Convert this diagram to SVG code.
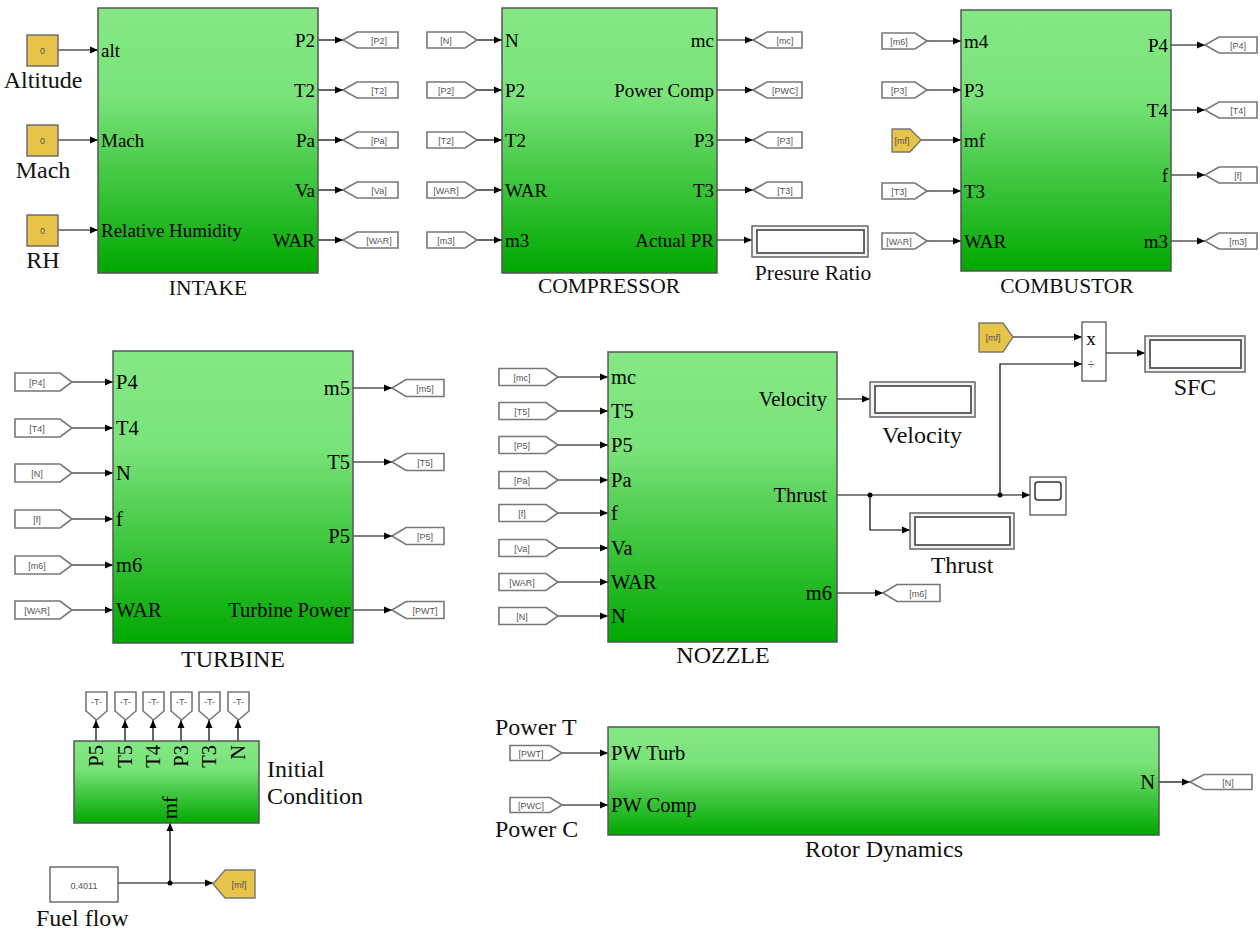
<svg xmlns="http://www.w3.org/2000/svg" width="1260" height="929" viewBox="0 0 1260 929">
<defs>
<linearGradient id="g" x1="0" y1="0" x2="0" y2="1">
<stop offset="0" stop-color="#84e884"/>
<stop offset="0.33" stop-color="#7ae37a"/>
<stop offset="1" stop-color="#00a800"/>
</linearGradient>
<marker id="ar" markerUnits="userSpaceOnUse" markerWidth="9" markerHeight="8" refX="8" refY="4" orient="auto">
<path d="M0,0.5 L8,4 L0,7.5 z" fill="#000"/>
</marker>
<style>
.blk{fill:url(#g);stroke:#555;stroke-width:1.5}
.p{font-family:"Liberation Serif",serif;font-size:19px;fill:#000}
.p2{font-family:"Liberation Serif",serif;font-size:20.5px;fill:#000}
.r{text-anchor:end}
.t{font-family:"Liberation Serif",serif;font-size:21.5px;fill:#111;text-anchor:middle}
.t2{font-family:"Liberation Serif",serif;font-size:24px;fill:#111}
.m{text-anchor:middle}
.tag{fill:#fff;stroke:#777;stroke-width:1.6}
.gold{fill:#e8c34a;stroke:#777;stroke-width:1.4}
.tt{font-family:"Liberation Sans",sans-serif;font-size:9px;fill:#555;text-anchor:middle}
.w{stroke:#000;stroke-width:1.2;fill:none}
.wa{stroke:#000;stroke-width:1.2;fill:none;marker-end:url(#ar)}
.disp{fill:#f4f4f4;stroke:#666;stroke-width:1.5}
.dispi{fill:#fff;stroke:#555;stroke-width:1.8}
.c{fill:#e8c34a;stroke:#666;stroke-width:1.4}
</style>
</defs>
<rect width="1260" height="929" fill="#fff"/>

<g id="connectors">
<!-- intake -->
<path class="wa" d="M58,50 H98"/>
<path class="wa" d="M58,140 H98"/>
<path class="wa" d="M58,230 H98"/>
<path class="wa" d="M318,40 H343"/>
<path class="wa" d="M318,90 H343"/>
<path class="wa" d="M318,140 H343"/>
<path class="wa" d="M318,190 H343"/>
<path class="wa" d="M318,240 H343"/>
<!-- compressor -->
<path class="wa" d="M477,40 H502"/>
<path class="wa" d="M477,90 H502"/>
<path class="wa" d="M477,140 H502"/>
<path class="wa" d="M477,190 H502"/>
<path class="wa" d="M477,240 H502"/>
<path class="wa" d="M717,40 H753"/>
<path class="wa" d="M717,90 H753"/>
<path class="wa" d="M717,140 H753"/>
<path class="wa" d="M717,190 H753"/>
<path class="wa" d="M717,240 H752"/>
<!-- combustor -->
<path class="wa" d="M927,41 H961"/>
<path class="wa" d="M927,90 H961"/>
<path class="wa" d="M921,140 H961"/>
<path class="wa" d="M927,191 H961"/>
<path class="wa" d="M927,241 H961"/>
<path class="wa" d="M1171,45 H1205"/>
<path class="wa" d="M1171,110 H1205"/>
<path class="wa" d="M1171,175 H1205"/>
<path class="wa" d="M1171,241 H1205"/>
<!-- turbine -->
<path class="wa" d="M72,382 H113"/>
<path class="wa" d="M72,428 H113"/>
<path class="wa" d="M72,473 H113"/>
<path class="wa" d="M72,519 H113"/>
<path class="wa" d="M72,565 H113"/>
<path class="wa" d="M72,610 H113"/>
<path class="wa" d="M353,388 H392"/>
<path class="wa" d="M353,462 H392"/>
<path class="wa" d="M353,536 H392"/>
<path class="wa" d="M353,610 H392"/>
<!-- nozzle -->
<path class="wa" d="M558,377 H608"/>
<path class="wa" d="M558,411 H608"/>
<path class="wa" d="M558,445 H608"/>
<path class="wa" d="M558,480 H608"/>
<path class="wa" d="M558,513 H608"/>
<path class="wa" d="M558,548 H608"/>
<path class="wa" d="M558,582 H608"/>
<path class="wa" d="M558,616 H608"/>
<path class="wa" d="M837,399 H870"/>
<path class="wa" d="M837,495 H1030"/>
<path class="wa" d="M870,495 V530 H910"/>
<path class="wa" d="M1000,495 V364 H1082"/>
<path class="wa" d="M1013,337 H1082"/>
<path class="wa" d="M1106,353 H1145"/>
<path class="wa" d="M837,593 H883"/>
<circle cx="870" cy="495" r="2.5" fill="#000"/>
<circle cx="1000" cy="495" r="2.5" fill="#000"/>
<!-- initial condition -->
<path class="wa" d="M96,741 V720"/>
<path class="wa" d="M125,741 V720"/>
<path class="wa" d="M153,741 V720"/>
<path class="wa" d="M181,741 V720"/>
<path class="wa" d="M209,741 V720"/>
<path class="wa" d="M238,741 V720"/>
<path class="wa" d="M118,883 H213"/>
<path class="wa" d="M170,883 V823"/>
<circle cx="170" cy="883" r="2.5" fill="#000"/>
<!-- rotor -->
<path class="wa" d="M562,753 H608"/>
<path class="wa" d="M562,805 H608"/>
<path class="wa" d="M1159,782 H1190"/>
</g>

<g id="const-altitude">
<rect class="c" x="27" y="35" width="31" height="31"/>
<text class="tt" x="42.5" y="53.5" fill="#333">0</text>
<text class="t2 m" x="43" y="88">Altitude</text>
</g>
<g id="const-mach">
<rect class="c" x="27" y="125" width="31" height="31"/>
<text class="tt" x="42.5" y="143.5">0</text>
<text class="t2 m" x="43" y="178">Mach</text>
</g>
<g id="const-rh">
<rect class="c" x="27" y="215" width="31" height="31"/>
<text class="tt" x="42.5" y="233.5">0</text>
<text class="t2 m" x="43" y="268">RH</text>
</g>

<g id="intake">
<rect class="blk" x="98" y="8" width="220" height="265"/>
<text class="p" x="101" y="56.5">alt</text>
<text class="p" x="101" y="146.5">Mach</text>
<text class="p" x="101" y="236.5">Relative Humidity</text>
<text class="p r" x="315" y="46.5">P2</text>
<text class="p r" x="315" y="96.5">T2</text>
<text class="p r" x="315" y="146.5">Pa</text>
<text class="p r" x="315" y="196.5">Va</text>
<text class="p r" x="315" y="246.5">WAR</text>
<text class="t" x="208" y="295">INTAKE</text>
</g>
<g id="intake-tags">
<polygon class="tag" points="343,40 357,32 398,32 398,48 357,48"/><text class="tt" x="379" y="43.5">[P2]</text>
<polygon class="tag" points="343,90 357,82 398,82 398,98 357,98"/><text class="tt" x="379" y="93.5">[T2]</text>
<polygon class="tag" points="343,140 357,132 398,132 398,148 357,148"/><text class="tt" x="379" y="143.5">[Pa]</text>
<polygon class="tag" points="343,190 357,182 398,182 398,198 357,198"/><text class="tt" x="379" y="193.5">[Va]</text>
<polygon class="tag" points="343,240 357,232 398,232 398,248 357,248"/><text class="tt" x="379" y="243.5">[WAR]</text>
</g>

<g id="compressor-in-tags">
<polygon class="tag" points="427,32 465,32 477,40 465,48 427,48"/><text class="tt" x="446" y="43.5">[N]</text>
<polygon class="tag" points="427,82 465,82 477,90 465,98 427,98"/><text class="tt" x="446" y="93.5">[P2]</text>
<polygon class="tag" points="427,132 465,132 477,140 465,148 427,148"/><text class="tt" x="446" y="143.5">[T2]</text>
<polygon class="tag" points="427,182 465,182 477,190 465,198 427,198"/><text class="tt" x="446" y="193.5">[WAR]</text>
<polygon class="tag" points="427,232 465,232 477,240 465,248 427,248"/><text class="tt" x="446" y="243.5">[m3]</text>
</g>
<g id="compressor">
<rect class="blk" x="502" y="8" width="215" height="265"/>
<text class="p" x="505" y="46.5">N</text>
<text class="p" x="505" y="96.5">P2</text>
<text class="p" x="505" y="146.5">T2</text>
<text class="p" x="505" y="196.5">WAR</text>
<text class="p" x="505" y="246.5">m3</text>
<text class="p r" x="714" y="46.5">mc</text>
<text class="p r" x="714" y="96.5">Power Comp</text>
<text class="p r" x="714" y="146.5">P3</text>
<text class="p r" x="714" y="196.5">T3</text>
<text class="p r" x="714" y="246.5">Actual PR</text>
<text class="t" x="609" y="293">COMPRESSOR</text>
</g>
<g id="compressor-out-tags">
<polygon class="tag" points="753,40 767,32 802,32 802,48 767,48"/><text class="tt" x="785" y="43.5">[mc]</text>
<polygon class="tag" points="753,90 767,82 802,82 802,98 767,98"/><text class="tt" x="785" y="93.5">[PWC]</text>
<polygon class="tag" points="753,140 767,132 802,132 802,148 767,148"/><text class="tt" x="785" y="143.5">[P3]</text>
<polygon class="tag" points="753,190 767,182 802,182 802,198 767,198"/><text class="tt" x="785" y="193.5">[T3]</text>
</g>
<g id="pressure-ratio">
<rect class="disp" x="752" y="226" width="116" height="31"/>
<rect class="dispi" x="757" y="230" width="107" height="23"/>
<text class="t" x="813" y="280">Presure Ratio</text>
</g>

<g id="combustor-in-tags">
<polygon class="tag" points="882,33 915,33 927,41 915,49 882,49"/><text class="tt" x="899" y="44.5">[m6]</text>
<polygon class="tag" points="882,82 915,82 927,90 915,98 882,98"/><text class="tt" x="899" y="93.5">[P3]</text>
<polygon class="gold" points="892,129 910,129 921,140 910,152 892,152"/><text class="tt" x="902" y="143.5">[mf]</text>
<polygon class="tag" points="882,183 915,183 927,191 915,199 882,199"/><text class="tt" x="899" y="194.5">[T3]</text>
<polygon class="tag" points="882,233 915,233 927,241 915,249 882,249"/><text class="tt" x="899" y="244.5">[WAR]</text>
</g>
<g id="combustor">
<rect class="blk" x="961" y="10" width="210" height="261"/>
<text class="p" x="964" y="47.5">m4</text>
<text class="p" x="964" y="96.5">P3</text>
<text class="p" x="964" y="146.5">mf</text>
<text class="p" x="964" y="197.5">T3</text>
<text class="p" x="964" y="247.5">WAR</text>
<text class="p r" x="1168" y="51.5">P4</text>
<text class="p r" x="1168" y="116.5">T4</text>
<text class="p r" x="1168" y="181.5">f</text>
<text class="p r" x="1168" y="247.5">m3</text>
<text class="t" x="1067" y="293">COMBUSTOR</text>
</g>
<g id="combustor-out-tags">
<polygon class="tag" points="1205,45 1219,37 1257,37 1257,53 1219,53"/><text class="tt" x="1238" y="48.5">[P4]</text>
<polygon class="tag" points="1205,110 1219,102 1257,102 1257,118 1219,118"/><text class="tt" x="1238" y="113.5">[T4]</text>
<polygon class="tag" points="1205,175 1219,167 1257,167 1257,183 1219,183"/><text class="tt" x="1238" y="178.5">[f]</text>
<polygon class="tag" points="1205,241 1219,233 1257,233 1257,249 1219,249"/><text class="tt" x="1238" y="244.5">[m3]</text>
</g>

<g id="turbine-in-tags">
<polygon class="tag" points="15,373 60,373 72,382 60,391 15,391"/><text class="tt" x="37" y="385.5">[P4]</text>
<polygon class="tag" points="15,419 60,419 72,428 60,437 15,437"/><text class="tt" x="37" y="431.5">[T4]</text>
<polygon class="tag" points="15,464 60,464 72,473 60,482 15,482"/><text class="tt" x="37" y="476.5">[N]</text>
<polygon class="tag" points="15,510 60,510 72,519 60,528 15,528"/><text class="tt" x="37" y="522.5">[f]</text>
<polygon class="tag" points="15,556 60,556 72,565 60,574 15,574"/><text class="tt" x="37" y="568.5">[m6]</text>
<polygon class="tag" points="15,601 60,601 72,610 60,619 15,619"/><text class="tt" x="37" y="613.5">[WAR]</text>
</g>
<g id="turbine">
<rect class="blk" x="113" y="351" width="240" height="292"/>
<text class="p2" x="116" y="389">P4</text>
<text class="p2" x="116" y="435">T4</text>
<text class="p2" x="116" y="480">N</text>
<text class="p2" x="116" y="526">f</text>
<text class="p2" x="116" y="572">m6</text>
<text class="p2" x="116" y="617">WAR</text>
<text class="p2 r" x="350" y="395">m5</text>
<text class="p2 r" x="350" y="469">T5</text>
<text class="p2 r" x="350" y="543">P5</text>
<text class="p2 r" x="350" y="617">Turbine Power</text>
<text class="t2 m" x="233" y="667">TURBINE</text>
</g>
<g id="turbine-out-tags">
<polygon class="tag" points="392,388 406,379.5 444,379.5 444,396.5 406,396.5"/><text class="tt" x="425" y="391.5">[m5]</text>
<polygon class="tag" points="392,462 406,453.5 444,453.5 444,470.5 406,470.5"/><text class="tt" x="425" y="465.5">[T5]</text>
<polygon class="tag" points="392,536 406,527.5 444,527.5 444,544.5 406,544.5"/><text class="tt" x="425" y="539.5">[P5]</text>
<polygon class="tag" points="392,610 406,601.5 444,601.5 444,618.5 406,618.5"/><text class="tt" x="425" y="613.5">[PWT]</text>
</g>

<g id="nozzle-in-tags">
<polygon class="tag" points="499,368.5 546,368.5 558,377 546,385.5 499,385.5"/><text class="tt" x="522" y="380.5">[mc]</text>
<polygon class="tag" points="499,402.5 546,402.5 558,411 546,419.5 499,419.5"/><text class="tt" x="522" y="414.5">[T5]</text>
<polygon class="tag" points="499,436.5 546,436.5 558,445 546,453.5 499,453.5"/><text class="tt" x="522" y="448.5">[P5]</text>
<polygon class="tag" points="499,471.5 546,471.5 558,480 546,488.5 499,488.5"/><text class="tt" x="522" y="483.5">[Pa]</text>
<polygon class="tag" points="499,504.5 546,504.5 558,513 546,521.5 499,521.5"/><text class="tt" x="522" y="516.5">[f]</text>
<polygon class="tag" points="499,539.5 546,539.5 558,548 546,556.5 499,556.5"/><text class="tt" x="522" y="551.5">[Va]</text>
<polygon class="tag" points="499,573.5 546,573.5 558,582 546,590.5 499,590.5"/><text class="tt" x="522" y="585.5">[WAR]</text>
<polygon class="tag" points="499,607.5 546,607.5 558,616 546,624.5 499,624.5"/><text class="tt" x="522" y="619.5">[N]</text>
</g>
<g id="nozzle">
<rect class="blk" x="608" y="352" width="229" height="290"/>
<text class="p2" x="611" y="384">mc</text>
<text class="p2" x="611" y="418">T5</text>
<text class="p2" x="611" y="452">P5</text>
<text class="p2" x="611" y="487">Pa</text>
<text class="p2" x="611" y="520">f</text>
<text class="p2" x="611" y="555">Va</text>
<text class="p2" x="611" y="589">WAR</text>
<text class="p2" x="611" y="623">N</text>
<text class="p2 r" x="827" y="406">Velocity</text>
<text class="p2 r" x="827" y="502">Thrust</text>
<text class="p2 r" x="832" y="600">m6</text>
<text class="t2 m" x="723" y="663">NOZZLE</text>
</g>
<g id="nozzle-out-tag">
<polygon class="tag" points="883,593 897,584.5 940,584.5 940,601.5 897,601.5"/><text class="tt" x="918" y="596.5">[m6]</text>
</g>
<g id="velocity-display">
<rect class="disp" x="870" y="382" width="105" height="35"/>
<rect class="dispi" x="875" y="386" width="96" height="27"/>
<text class="t2 m" x="922" y="443">Velocity</text>
</g>
<g id="thrust-display">
<rect class="disp" x="910" y="513" width="104" height="36"/>
<rect class="dispi" x="915" y="517" width="95" height="28"/>
<text class="t2 m" x="962" y="573">Thrust</text>
</g>
<g id="scope">
<rect x="1030" y="477" width="36" height="38" fill="#fff" stroke="#555" stroke-width="1.3"/>
<rect x="1035" y="482" width="26" height="18" rx="3" fill="#fff" stroke="#333" stroke-width="1.5"/>
</g>
<g id="mf-from-sfc">
<polygon class="gold" points="979,323 1003,323 1013,337 1003,352 979,352"/><text class="tt" x="993" y="340.5">[mf]</text>
</g>
<g id="product">
<rect x="1082" y="322" width="24" height="59" fill="#fff" stroke="#555" stroke-width="1.3"/>
<text x="1091" y="345" font-family="Liberation Serif,serif" font-size="19px" text-anchor="middle">x</text>
<text x="1091" y="369" font-family="Liberation Sans,sans-serif" font-size="12px" fill="#555" text-anchor="middle">÷</text>
</g>
<g id="sfc-display">
<rect class="disp" x="1145" y="336" width="100" height="36"/>
<rect class="dispi" x="1150" y="340" width="91" height="28"/>
<text class="t2 m" x="1195" y="395">SFC</text>
</g>

<g id="ic-tags">
<polygon class="tag" points="86,692 107,692 107,711 96.5,720 86,711"/><text class="tt" x="96.5" y="705">-T-</text>
<polygon class="tag" points="115,692 136,692 136,711 125.5,720 115,711"/><text class="tt" x="125.5" y="705">-T-</text>
<polygon class="tag" points="143,692 164,692 164,711 153.5,720 143,711"/><text class="tt" x="153.5" y="705">-T-</text>
<polygon class="tag" points="171,692 192,692 192,711 181.5,720 171,711"/><text class="tt" x="181.5" y="705">-T-</text>
<polygon class="tag" points="199,692 220,692 220,711 209.5,720 199,711"/><text class="tt" x="209.5" y="705">-T-</text>
<polygon class="tag" points="228,692 249,692 249,711 238.5,720 228,711"/><text class="tt" x="238.5" y="705">-T-</text>
</g>
<g id="initial-condition">
<rect class="blk" x="74" y="741" width="185" height="82"/>
<text class="p2 r" transform="translate(103,745) rotate(-90)">P5</text>
<text class="p2 r" transform="translate(132,745) rotate(-90)">T5</text>
<text class="p2 r" transform="translate(160,745) rotate(-90)">T4</text>
<text class="p2 r" transform="translate(188,745) rotate(-90)">P3</text>
<text class="p2 r" transform="translate(216,745) rotate(-90)">T3</text>
<text class="p2 r" transform="translate(245,745) rotate(-90)">N</text>
<text class="p2" transform="translate(177,819) rotate(-90)">mf</text>
<text class="t2" x="267" y="777">Initial</text>
<text class="t2" x="267" y="804">Condition</text>
</g>
<g id="fuel-flow">
<rect x="50" y="867" width="68" height="35" fill="#fff" stroke="#555" stroke-width="1.3"/>
<text class="tt" x="84" y="888.5" font-size="10px" fill="#333">0.4011</text>
<text class="t2" x="36" y="926">Fuel flow</text>
</g>
<g id="mf-goto">
<polygon class="gold" points="213,884 225,870 255,870 255,898 225,898"/><text class="tt" x="239" y="887.5">[mf]</text>
</g>

<g id="rotor-in-tags">
<polygon class="tag" points="510,745.5 550,745.5 562,753 550,760.5 510,760.5"/><text class="tt" x="531" y="756.5">[PWT]</text>
<polygon class="tag" points="510,797.5 550,797.5 562,805 550,812.5 510,812.5"/><text class="tt" x="531" y="808.5">[PWC]</text>
<text class="t2" x="495" y="735">Power T</text>
<text class="t2" x="495" y="837">Power C</text>
</g>
<g id="rotor-dynamics">
<rect class="blk" x="608" y="727" width="551" height="108"/>
<text class="p2" x="611" y="760">PW Turb</text>
<text class="p2" x="611" y="812">PW Comp</text>
<text class="p2 r" x="1155" y="789">N</text>
<text class="t2 m" x="884" y="857">Rotor Dynamics</text>
</g>
<g id="rotor-out-tag">
<polygon class="tag" points="1190,782 1204,774.5 1252,774.5 1252,789.5 1204,789.5"/><text class="tt" x="1228" y="785.5">[N]</text>
</g>
</svg>
